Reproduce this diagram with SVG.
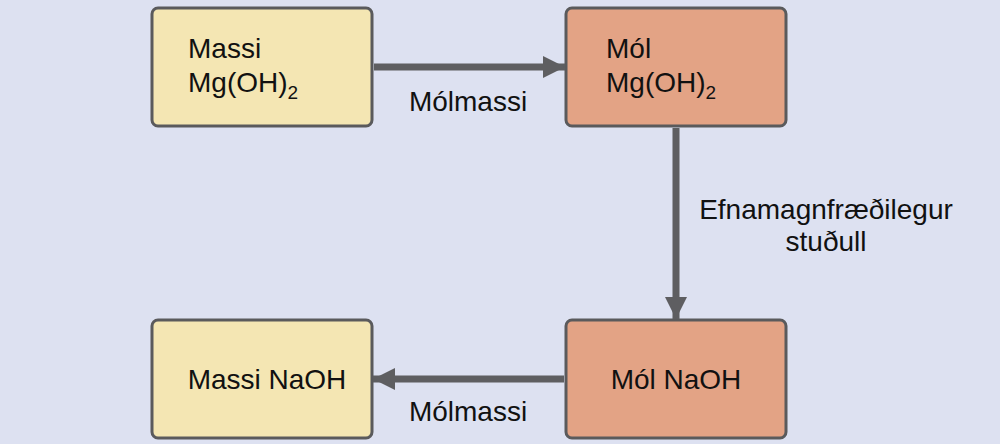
<svg xmlns="http://www.w3.org/2000/svg" width="1000" height="444" viewBox="0 0 1000 444">
<style>
.box{stroke:#5a5a5c;stroke-width:3}
.y{fill:#f4e6b3}.o{fill:#e3a385}
text{font-family:"Liberation Sans",Arial,sans-serif;font-size:28px;fill:#111}
.c{stroke:#5e5e61;stroke-width:7;fill:none}
</style>
<defs><marker id="ah" markerUnits="userSpaceOnUse" markerWidth="22" markerHeight="22" refX="22" refY="11" orient="auto"><path d="M0,0L22,11L0,22z" fill="#5e5e61"/></marker></defs>
<rect width="1000" height="444" fill="#dde1f1"/>
<g id="n1"><rect class="box y" x="152" y="8" width="220" height="118" rx="6"/><text x="188" y="58">Massi</text><text x="188" y="92">Mg(OH)<tspan font-size="19" dy="7">2</tspan></text></g>
<g id="n2"><rect class="box o" x="566" y="8" width="220" height="118" rx="6"/><text x="606" y="58">Mól</text><text x="606" y="92">Mg(OH)<tspan font-size="19" dy="7">2</tspan></text></g>
<g id="n3"><rect class="box y" x="152" y="320" width="220" height="118" rx="6"/><text x="267" y="389" text-anchor="middle">Massi NaOH</text></g>
<g id="n4"><rect class="box o" x="566" y="320" width="220" height="118" rx="6"/><text x="676" y="389" text-anchor="middle">Mól NaOH</text></g>
<g id="connectors">
<path class="c" d="M374,67H565" marker-end="url(#ah)"/>
<path class="c" d="M676,128V319" marker-end="url(#ah)"/>
<path class="c" d="M564,379H373" marker-end="url(#ah)"/>
<text x="468" y="111" text-anchor="middle">Mólmassi</text>
<text x="826" y="219" text-anchor="middle">Efnamagnfræðilegur</text>
<text x="826" y="251" text-anchor="middle">stuðull</text>
<text x="468" y="421" text-anchor="middle">Mólmassi</text>
</g>
</svg>
